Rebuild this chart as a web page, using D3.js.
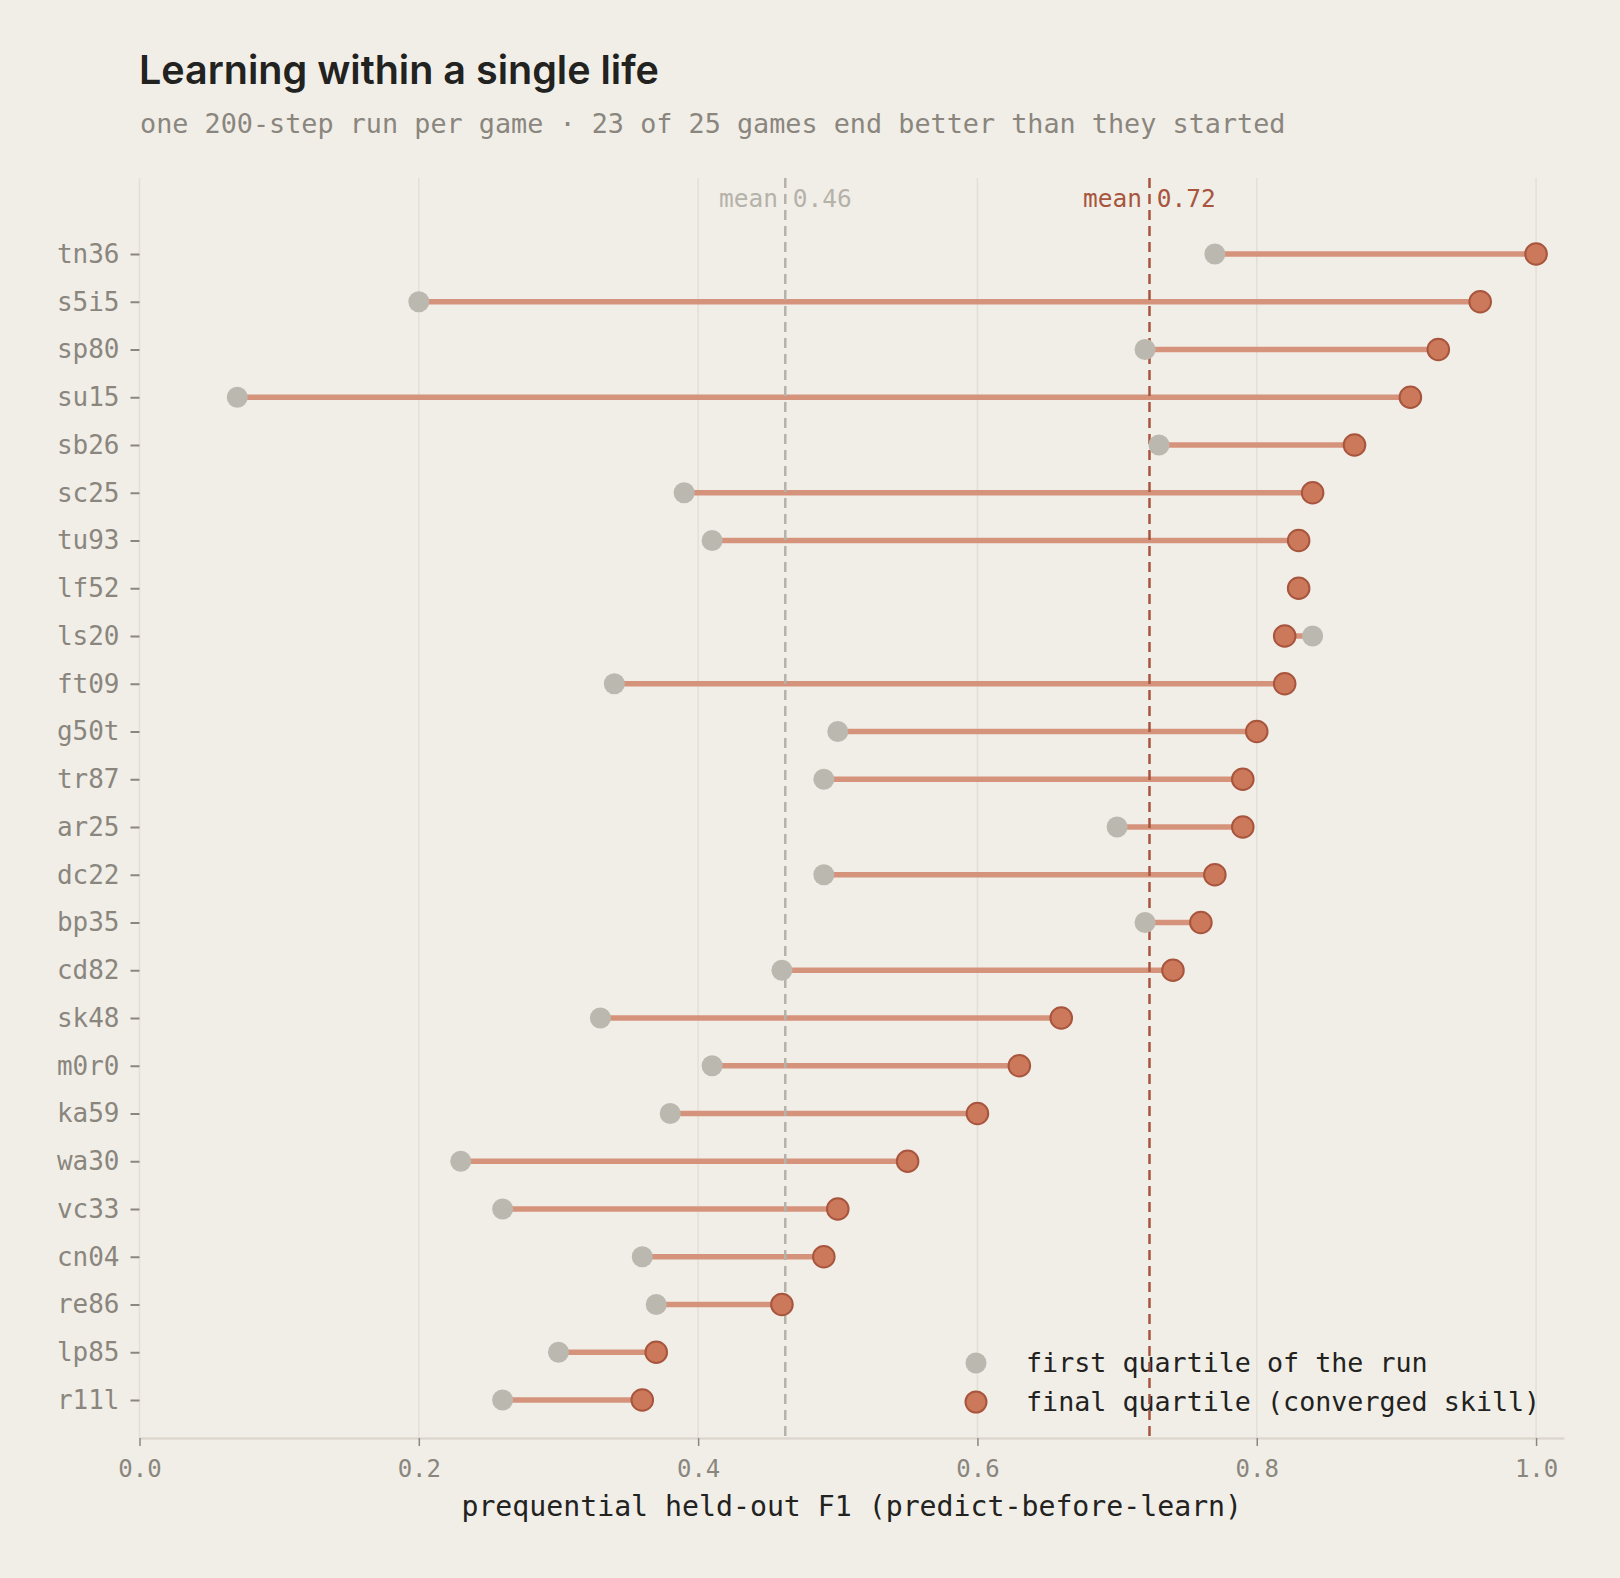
<!DOCTYPE html>
<html>
<head>
<meta charset="utf-8">
<script src="https://cdn.jsdelivr.net/npm/d3@7"></script>
<style>
  html, body { margin: 0; padding: 0; background: #f1eee8; }
  svg { display: block; }
</style>
</head>
<body>
<svg id="chart"></svg>
<script>
const width = 1620;
const height = 1578;

// games, sorted by final score (top to bottom)
const games = ["tn36", "s5i5", "sp80", "su15", "sb26", "sc25", "tu93", "lf52", "ls20", "ft09",
  "g50t", "tr87", "ar25", "dc22", "bp35", "cd82", "sk48", "m0r0", "ka59", "wa30",
  "vc33", "cn04", "re86", "lp85", "r11l"];

// F1 over the first quartile of the run
const firstQuartile = [0.77, 0.20, 0.72, 0.07, 0.73, 0.39, 0.41, 0.83, 0.84, 0.34,
  0.50, 0.49, 0.70, 0.49, 0.72, 0.46, 0.33, 0.41, 0.38, 0.23,
  0.26, 0.36, 0.37, 0.30, 0.26];

// F1 over the final quartile (converged skill)
const finalQuartile = [1.00, 0.96, 0.93, 0.91, 0.87, 0.84, 0.83, 0.83, 0.82, 0.82,
  0.80, 0.79, 0.79, 0.77, 0.76, 0.74, 0.66, 0.63, 0.60, 0.55,
  0.50, 0.49, 0.46, 0.37, 0.36];

const xTicks = [0.0, 0.2, 0.4, 0.6, 0.8, 1.0];
const legendLabels = ["first quartile of the run", "final quartile (converged skill)"];

const mono = "'DejaVu Sans Mono', 'Liberation Mono', monospace";
const sans = "Inter, 'Noto Sans', sans-serif";

const colors = {
  bg: "#f1eee8",
  grid: "#e3dfd7",
  axis: "#dcd8cf",
  tick: "#8a877f",
  muted: "#8a867e",
  ink: "#222220",
  grey: "#bbb8b0",
  greyMean: "#b5b2aa",
  orange: "#cc785b",
  orangeStroke: "#a8553d",
  connector: "#d6937c"
};

const data = games.map((g, i) => ({ game: g, first: firstQuartile[i], last: finalQuartile[i] }));

const plotTop = 178;
const plotBottom = 1438;

const x = d3.scaleLinear()
  .domain([0, 1.02])
  .range([139.5, 1564]);

const y = d3.scalePoint()
  .domain(games)
  .range([254, 1400]);

const svg = d3.select("#chart")
  .attr("width", width)
  .attr("height", height)
  .attr("viewBox", [0, 0, width, height]);

svg.append("rect")
  .attr("width", width)
  .attr("height", height)
  .attr("fill", colors.bg);

// title + subtitle
svg.append("text")
  .attr("x", 139)
  .attr("y", 84)
  .attr("font-family", sans)
  .attr("font-weight", 600)
  .attr("font-size", 39.5)
  .attr("fill", colors.ink)
  .text("Learning within a single life");

svg.append("text")
  .attr("x", 140)
  .attr("y", 133)
  .attr("font-family", mono)
  .attr("font-size", 26.8)
  .attr("fill", colors.muted)
  .text("one 200-step run per game · 23 of 25 games end better than they started");

// vertical gridlines
svg.append("g")
  .selectAll("line")
  .data(xTicks)
  .join("line")
  .attr("x1", d => x(d))
  .attr("x2", d => x(d))
  .attr("y1", plotTop)
  .attr("y2", plotBottom)
  .attr("stroke", colors.grid)
  .attr("stroke-width", 1.5);

// x axis
const xAxis = svg.append("g")
  .attr("transform", `translate(0,${plotBottom})`)
  .call(d3.axisBottom(x)
    .tickValues(xTicks)
    .tickFormat(d3.format(".1f"))
    .tickSize(8)
    .tickSizeOuter(0)
    .tickPadding(14));

xAxis.select(".domain")
  .attr("stroke", colors.axis)
  .attr("stroke-width", 2.5);
xAxis.selectAll(".tick line")
  .attr("stroke", colors.tick)
  .attr("stroke-width", 1.5);
xAxis.selectAll(".tick text")
  .attr("font-family", mono)
  .attr("font-size", 24)
  .attr("fill", colors.muted);

svg.append("text")
  .attr("x", (x(0) + x(1.02)) / 2)
  .attr("y", 1516)
  .attr("text-anchor", "middle")
  .attr("font-family", mono)
  .attr("font-size", 28.2)
  .attr("fill", colors.ink)
  .text("prequential held-out F1 (predict-before-learn)");

// y axis
const yAxis = svg.append("g")
  .attr("transform", `translate(${x(0)},0)`)
  .call(d3.axisLeft(y).tickSize(9).tickPadding(11));

yAxis.select(".domain").remove();
yAxis.selectAll(".tick line")
  .attr("stroke", colors.tick)
  .attr("stroke-width", 2);
yAxis.selectAll(".tick text")
  .attr("font-family", mono)
  .attr("font-size", 26)
  .attr("fill", colors.muted);

// legend (no box, sits under the mean lines)
const legend = svg.append("g");
legendLabels.forEach((label, i) => {
  const ly = 1363 + i * 39;
  legend.append("circle")
    .attr("cx", 976)
    .attr("cy", ly)
    .attr("r", 10.5)
    .attr("fill", i === 0 ? colors.grey : colors.orange)
    .attr("stroke", i === 0 ? "none" : colors.orangeStroke)
    .attr("stroke-width", 2);
  legend.append("text")
    .attr("x", 1026)
    .attr("y", ly)
    .attr("dy", "0.32em")
    .attr("font-family", mono)
    .attr("font-size", 26.7)
    .attr("fill", colors.ink)
    .text(label);
});

// connectors
svg.append("g")
  .selectAll("line")
  .data(data)
  .join("line")
  .attr("x1", d => x(d.first))
  .attr("x2", d => x(d.last))
  .attr("y1", d => y(d.game))
  .attr("y2", d => y(d.game))
  .attr("stroke", colors.connector)
  .attr("stroke-width", 5.5);

// mean lines
const means = [
  { value: d3.mean(firstQuartile), color: colors.greyMean },
  { value: d3.mean(finalQuartile), color: colors.orangeStroke }
];

const meanG = svg.append("g");
meanG.selectAll("line")
  .data(means)
  .join("line")
  .attr("x1", d => x(d.value))
  .attr("x2", d => x(d.value))
  .attr("y1", plotTop)
  .attr("y2", plotBottom)
  .attr("stroke", d => d.color)
  .attr("stroke-width", 2.5)
  .attr("stroke-dasharray", "10,6");

meanG.selectAll("text")
  .data(means)
  .join("text")
  .attr("x", d => x(d.value))
  .attr("y", 207)
  .attr("text-anchor", "middle")
  .attr("font-family", mono)
  .attr("font-size", 24.5)
  .attr("fill", d => d.color)
  .text(d => `mean ${d3.format(".2f")(d.value)}`);

// dots
svg.append("g")
  .selectAll("circle")
  .data(data)
  .join("circle")
  .attr("cx", d => x(d.first))
  .attr("cy", d => y(d.game))
  .attr("r", 10.5)
  .attr("fill", colors.grey);

svg.append("g")
  .selectAll("circle")
  .data(data)
  .join("circle")
  .attr("cx", d => x(d.last))
  .attr("cy", d => y(d.game))
  .attr("r", 10.8)
  .attr("fill", colors.orange)
  .attr("stroke", colors.orangeStroke)
  .attr("stroke-width", 2);
</script>
</body>
</html>
